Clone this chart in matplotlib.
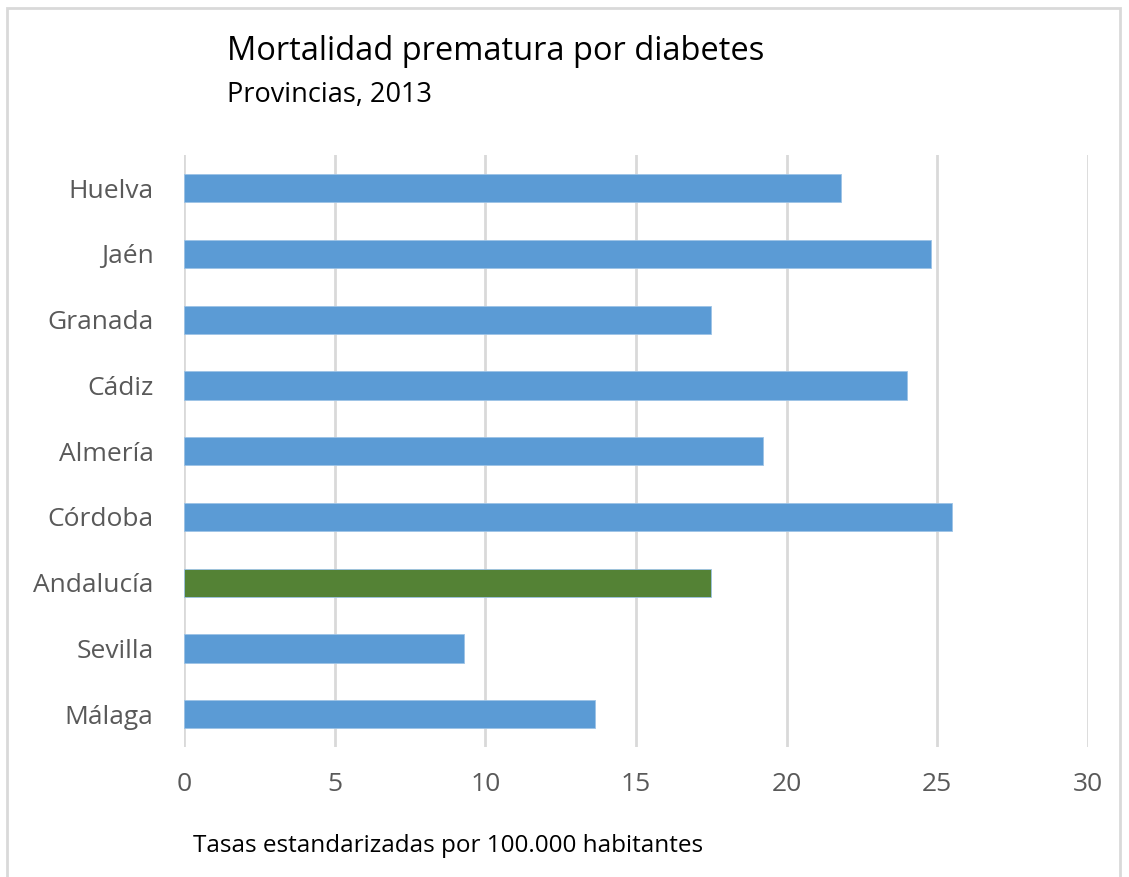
import matplotlib.pyplot as plt
from matplotlib.patches import Rectangle

# Tasas estandarizadas por 100.000 habitantes, 2013
provincias = ['Huelva', 'Jaén', 'Granada', 'Cádiz', 'Almería', 'Córdoba',
              'Andalucía', 'Sevilla', 'Málaga']
tasas = [21.8, 24.8, 17.5, 24.0, 19.2, 25.5, 17.5, 9.3, 13.65]
x_ticks = [0, 5, 10, 15, 20, 25, 30]

azul = '#5b9bd5'
verde = '#548235'
colores = [verde if p == 'Andalucía' else azul for p in provincias]

plt.rcParams['font.family'] = ['Open Sans', 'DejaVu Sans']

fig = plt.figure(figsize=(11.29, 8.77), dpi=100)
ax = fig.add_axes([0.163, 0.148, 0.8007, 0.675])

y = list(range(len(provincias)))
ax.barh(y, tasas, height=0.43, color=colores, edgecolor='#9dc3e6', linewidth=0.6, zorder=3)
ax.set_ylim(len(provincias) - 0.5, -0.5)
ax.set_xlim(0, 30)
ax.set_xticks(x_ticks)
ax.set_yticks(y)
ax.set_yticklabels(provincias)
ax.tick_params(axis='both', length=0, colors='#595959', labelsize=19)
ax.tick_params(axis='x', pad=18)
ax.tick_params(axis='y', pad=22)
ax.grid(axis='x', color='#d9d9d9', linewidth=2, zorder=0)
for s in ax.spines.values():
    s.set_visible(False)

fig.text(227 / 1129, 1 - 52 / 877, 'Mortalidad prematura por diabetes',
         fontsize=23.5, color='#000000', va='center', ha='left')
fig.text(227 / 1129, 1 - 95 / 877, 'Provincias, 2013',
         fontsize=19.5, color='#000000', va='center', ha='left')
fig.text(193 / 1129, 1 - 846 / 877, 'Tasas estandarizadas por 100.000 habitantes',
         fontsize=17.5, color='#000000', va='center', ha='left')

# marco del gráfico
fig.patches.append(Rectangle((7 / 1129, -0.02), 1113 / 1129, 1.02 - 8 / 877,
                             transform=fig.transFigure, fill=False,
                             edgecolor='#d9d9d9', linewidth=2))

fig.savefig('out.png', dpi=100, facecolor='white')
